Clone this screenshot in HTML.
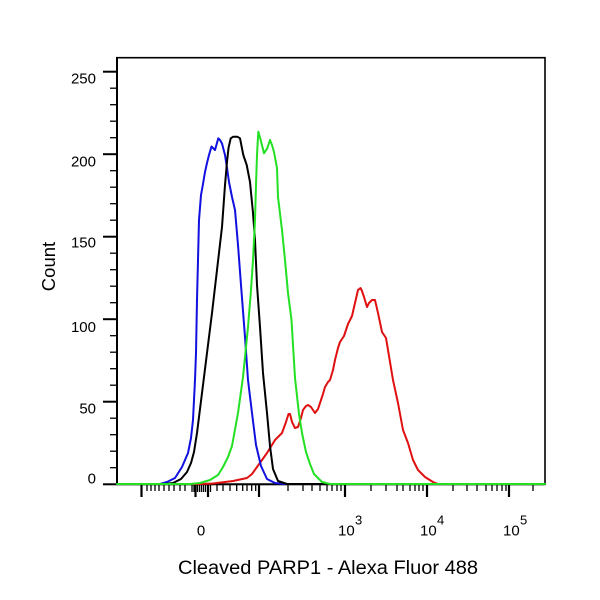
<!DOCTYPE html>
<html>
<head>
<meta charset="utf-8">
<style>
html,body{margin:0;padding:0;background:#fff;}
svg{display:block;}
text{font-family:"Liberation Sans",Arial,sans-serif;fill:#000;}
</style>
</head>
<body>
<svg width="600" height="600" viewBox="0 0 600 600" xmlns="http://www.w3.org/2000/svg">
<rect x="0" y="0" width="600" height="600" fill="#fff"/>
<rect x="117" y="57.7" width="428" height="426.6" fill="none" stroke="#000" stroke-width="1.6"/>
<line x1="117" y1="57" x2="117" y2="485" stroke="#000" stroke-width="2"/>
<line x1="117" y1="484.3" x2="545" y2="484.3" stroke="#000" stroke-width="2"/>
<g stroke="#000" stroke-width="2">
<line x1="103" y1="71.7" x2="117" y2="71.7"/>
<line x1="103" y1="154.2" x2="117" y2="154.2"/>
<line x1="103" y1="236.7" x2="117" y2="236.7"/>
<line x1="103" y1="319.2" x2="117" y2="319.2"/>
<line x1="103" y1="401.7" x2="117" y2="401.7"/>
<line x1="103" y1="484.3" x2="117" y2="484.3"/>
</g>
<g stroke="#000" stroke-width="1.3">
<line x1="110" y1="88.2" x2="117" y2="88.2"/>
<line x1="110" y1="104.7" x2="117" y2="104.7"/>
<line x1="110" y1="121.2" x2="117" y2="121.2"/>
<line x1="110" y1="137.7" x2="117" y2="137.7"/>
<line x1="110" y1="170.7" x2="117" y2="170.7"/>
<line x1="110" y1="187.2" x2="117" y2="187.2"/>
<line x1="110" y1="203.7" x2="117" y2="203.7"/>
<line x1="110" y1="220.2" x2="117" y2="220.2"/>
<line x1="110" y1="253.2" x2="117" y2="253.2"/>
<line x1="110" y1="269.7" x2="117" y2="269.7"/>
<line x1="110" y1="286.2" x2="117" y2="286.2"/>
<line x1="110" y1="302.7" x2="117" y2="302.7"/>
<line x1="110" y1="335.7" x2="117" y2="335.7"/>
<line x1="110" y1="352.2" x2="117" y2="352.2"/>
<line x1="110" y1="368.7" x2="117" y2="368.7"/>
<line x1="110" y1="385.2" x2="117" y2="385.2"/>
<line x1="110" y1="418.2" x2="117" y2="418.2"/>
<line x1="110" y1="434.7" x2="117" y2="434.7"/>
<line x1="110" y1="451.2" x2="117" y2="451.2"/>
<line x1="110" y1="467.7" x2="117" y2="467.7"/>
</g>
<g font-size="15" text-anchor="end">
<text x="96" y="83.7">250</text>
<text x="96" y="166.7">200</text>
<text x="96" y="247.7">150</text>
<text x="96" y="332">100</text>
<text x="96" y="413.4">50</text>
<text x="96" y="483.4">0</text>
</g>
<g stroke="#000" stroke-width="2.2">
<line x1="141.5" y1="484" x2="141.5" y2="497"/>
<line x1="195.5" y1="484" x2="195.5" y2="497"/>
<line x1="208" y1="484" x2="208" y2="497"/>
<line x1="259" y1="484" x2="259" y2="497"/>
<line x1="345" y1="484" x2="345" y2="497"/>
<line x1="427" y1="484" x2="427" y2="497"/>
<line x1="509" y1="484" x2="509" y2="497"/>
</g>
<g stroke="#000" stroke-width="1.3">
<line x1="147" y1="484" x2="147" y2="491"/>
<line x1="151" y1="484" x2="151" y2="491"/>
<line x1="155" y1="484" x2="155" y2="491"/>
<line x1="159" y1="484" x2="159" y2="491"/>
<line x1="164" y1="484" x2="164" y2="491"/>
<line x1="169" y1="484" x2="169" y2="491"/>
<line x1="174" y1="484" x2="174" y2="491"/>
<line x1="180" y1="484" x2="180" y2="491"/>
<line x1="185" y1="484" x2="185" y2="491"/>
<line x1="192" y1="484" x2="192" y2="492"/>
<line x1="194" y1="484" x2="194" y2="492"/>
<line x1="197.5" y1="484" x2="197.5" y2="492"/>
<line x1="199.5" y1="484" x2="199.5" y2="492"/>
<line x1="201.5" y1="484" x2="201.5" y2="492"/>
<line x1="203.5" y1="484" x2="203.5" y2="492"/>
<line x1="205.5" y1="484" x2="205.5" y2="492"/>
<line x1="210.5" y1="484" x2="210.5" y2="492"/>
<line x1="217" y1="484" x2="217" y2="491"/>
<line x1="223" y1="484" x2="223" y2="491"/>
<line x1="230" y1="484" x2="230" y2="491"/>
<line x1="236.7" y1="484" x2="236.7" y2="491"/>
<line x1="242.7" y1="484" x2="242.7" y2="491"/>
<line x1="247" y1="484" x2="247" y2="491"/>
<line x1="251.7" y1="484" x2="251.7" y2="491"/>
<line x1="255.7" y1="484" x2="255.7" y2="491"/>
<line x1="288" y1="484" x2="288" y2="491"/>
<line x1="303" y1="484" x2="303" y2="491"/>
<line x1="312" y1="484" x2="312" y2="491"/>
<line x1="320" y1="484" x2="320" y2="491"/>
<line x1="327" y1="484" x2="327" y2="491"/>
<line x1="332" y1="484" x2="332" y2="491"/>
<line x1="337" y1="484" x2="337" y2="491"/>
<line x1="341" y1="484" x2="341" y2="491"/>
<line x1="371" y1="484" x2="371" y2="491"/>
<line x1="386" y1="484" x2="386" y2="491"/>
<line x1="397" y1="484" x2="397" y2="491"/>
<line x1="403" y1="484" x2="403" y2="491"/>
<line x1="410" y1="484" x2="410" y2="491"/>
<line x1="415" y1="484" x2="415" y2="491"/>
<line x1="419" y1="484" x2="419" y2="491"/>
<line x1="423" y1="484" x2="423" y2="491"/>
<line x1="453" y1="484" x2="453" y2="491"/>
<line x1="467" y1="484" x2="467" y2="491"/>
<line x1="477" y1="484" x2="477" y2="491"/>
<line x1="486" y1="484" x2="486" y2="491"/>
<line x1="492" y1="484" x2="492" y2="491"/>
<line x1="497" y1="484" x2="497" y2="491"/>
<line x1="502" y1="484" x2="502" y2="491"/>
<line x1="506" y1="484" x2="506" y2="491"/>
<line x1="533" y1="484" x2="533" y2="491"/>
</g>
<g font-size="15">
<text x="201" y="535.5" text-anchor="middle">0</text>
<text x="338" y="535.5">10</text><text x="355" y="524.5" font-size="13">3</text>
<text x="420" y="535.5">10</text><text x="437" y="524.5" font-size="13">4</text>
<text x="503" y="535.5">10</text><text x="520" y="524.5" font-size="13">5</text>
</g>
<text x="178" y="574" font-size="19" textLength="300" lengthAdjust="spacingAndGlyphs">Cleaved PARP1 - Alexa Fluor 488</text>
<text transform="translate(55,266.5) rotate(-90)" font-size="18.5" text-anchor="middle">Count</text>
<g fill="none" stroke-width="2" stroke-linejoin="round" stroke-linecap="round">
<polyline stroke="#e01010" points="117,484 200,484 213,483.5 233,481 247,478 252,474 257,467 262,460 267,453 275,440 282,433 286,422 288.5,414 290,414 292,422 295,428 298,427 301,418 303,410 306,406 308,405 311,407 315,413 318,409 320,403 323,394 325,387 328,382 330,380 333,370 335,360 338,348 340,342 344,336 348,324 352,316 355,303 358,290 360.5,288 362,291 364,297 367,307 369,303 372,300 375,300 378,313 382,332 386,338 389,356 393,380 398,403 403,430 408,443 413,460 418,470 425,477 433,482 438,484 545,484"/>
<polyline stroke="#1010e0" points="117,484 160,484 167,482 175,478 182,467 188,453 191,438 193,420 195,380 196,353 197,300 198,260 199,220 201,195 203,184 205,172 207,163 209,155 211.5,146.5 215,150 218.3,138.3 220,140 222,143.5 225,155 227,168 229,182 232,197 235,210 238,245 241,285 245,337 248,380 252,413 256,445 261,466 267,479 275,483 285,484 545,484"/>
<polyline stroke="#000" points="117,484 165,484 173,483 181,479 187,472 191,463 194,452 197,433 202,393 207,353 212,313 217,270 222,227 225,185 227,162 228.5,148 230.7,138.3 233.3,136.7 237.3,136.7 240,138.3 243.3,155 246.7,165 250,182 253,213 255,240 257,285 260,327 263,373 267,413 270,446 273,469 278,481 287,484 545,484"/>
<polyline stroke="#22e022" points="117,484 190,484 200,483 210,480 218,475 223,467 228,457 232,446 238,413 243,377 248,327 251,290 253,260 255,220 256,185 257,155 258.3,131.7 260.7,140 264,153.3 267.3,148.3 270,140 272,145 274,152 277,168 278,197 282,230 285,260 288,293 291.5,320 295,378 299,414 302,433 306,452 310,464 314,474 322,482 330,484 545,484"/>
</g>
</svg>
</body>
</html>
